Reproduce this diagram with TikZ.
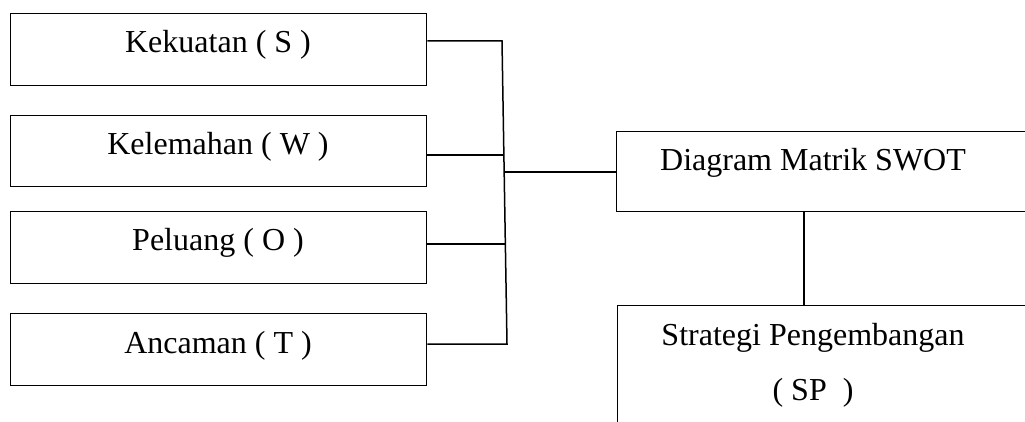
\documentclass[tikz,border=0pt]{standalone}
\usepackage{fontspec}
\setmainfont{Liberation Serif}
\begin{document}
\begin{tikzpicture}[x=1pt,y=-1pt,
  box/.style={draw=black,line width=1.4pt,anchor=north west,inner sep=0pt,minimum width=416pt},
  lbl/.style={anchor=base,inner sep=0pt,font=\fontsize{32}{38}\selectfont},
  conn/.style={draw=black,line width=1.5pt}]
\useasboundingbox (0,0) rectangle (1025,422);
\clip (0,0) rectangle (1025,422);
% boxes
\node[box,minimum height=72pt] (k) at (10,13) {};
\node[box,minimum height=71pt] (w) at (10,115) {};
\node[box,minimum height=72pt] (o) at (10,211) {};
\node[box,minimum height=72pt] (t) at (10,313) {};
\node[box,minimum width=430pt,minimum height=80pt] (swot) at (616,131) {};
\node[box,minimum width=430pt,minimum height=140pt] (sp) at (617,305) {};
% labels
\node[lbl] (lk) at (218,53) {Kekuatan ( S )};
\node[lbl] (lw) at (218,155) {Kelemahan ( W )};
\node[lbl] (lo) at (218,251) {Peluang ( O )};
\node[lbl] (lt) at (218,353) {Ancaman ( T )};
\node[lbl] (ls) at (813,171) {Diagram Matrik SWOT};
\node[lbl] (lp1) at (813,345) {Strategi Pengembangan};
\node[lbl] (lp2) at (813,400) {( SP~~)};
% bus coordinates
\coordinate (bk) at (502,41);
\coordinate (bw) at (503,155);
\coordinate (bo) at (505,244);
\coordinate (bt) at (507,344);
\coordinate (bm) at (505,172);
\coordinate (sv) at (804,0);
% connectors
\draw[conn] (k.east |- bk) -- (bk) -- (bt) -- (t.east |- bt);
\draw[conn] (w.east |- bw) -- (bw);
\draw[conn] (o.east |- bo) -- (bo);
\draw[conn] (bm) -- (swot.west |- bm);
\draw[conn] (swot.south -| sv) -- (sp.north -| sv);
\end{tikzpicture}
\end{document}
